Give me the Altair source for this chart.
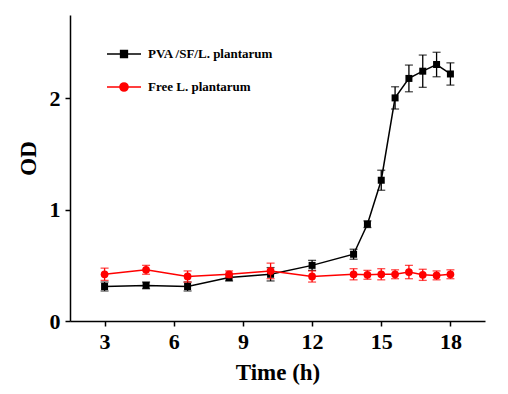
import altair as alt
import pandas as pd

time_h = [3, 4.8, 6.6, 8.4, 10.2, 12, 13.8, 14.4, 15, 15.6, 16.2, 16.8, 17.4, 18]
pva_od = [0.31, 0.32, 0.31, 0.39, 0.42, 0.50, 0.60, 0.87, 1.265, 2.005, 2.18, 2.245, 2.305, 2.22]
pva_err = [0.04, 0.03, 0.04, 0.03, 0.06, 0.045, 0.045, 0.03, 0.09, 0.10, 0.12, 0.145, 0.11, 0.10]
free_od = [0.42, 0.46, 0.40, 0.42, 0.45, 0.40, 0.42, 0.415, 0.42, 0.42, 0.44, 0.415, 0.41, 0.42]
free_err = [0.055, 0.04, 0.05, 0.03, 0.07, 0.05, 0.05, 0.04, 0.05, 0.04, 0.06, 0.05, 0.04, 0.04]

series_names = ["PVA /SF/L. plantarum", "Free L. plantarum"]
series_colors = ["#000000", "#ff0000"]
x_ticks = [3, 6, 9, 12, 15, 18]
y_ticks = [0, 1, 2]

rows = []
for t, v, e in zip(time_h, pva_od, pva_err):
    rows.append({"t": t, "od": v, "err": e, "series": series_names[0]})
for t, v, e in zip(time_h, free_od, free_err):
    rows.append({"t": t, "od": v, "err": e, "series": series_names[1]})
df = pd.DataFrame(rows)

FONT = "Liberation Serif"

xs = alt.Scale(domain=[1.5, 19.5], nice=False, zero=False)
ys = alt.Scale(domain=[0, 2.75], nice=False)

base = alt.Chart(df).transform_calculate(
    lo="datum.od - datum.err", hi="datum.od + datum.err"
)

X = alt.X("t:Q", scale=xs, axis=alt.Axis(values=x_ticks, title="Time (h)", format="d",
                                          titleY=51, titleBaseline="middle"))
Y = alt.Y("od:Q", scale=ys, axis=alt.Axis(values=y_ticks, title="OD", format="d",
                                           titleX=-42, titleY=143,
                                           titleBaseline="middle", titleAlign="center"))


def series_layers(name, color, shape, size):
    b = base.transform_filter(alt.datum.series == name)
    line = b.mark_line(color=color, strokeWidth=1.5).encode(x=X, y=Y)
    rule = b.mark_rule(color=color, strokeWidth=1.3).encode(
        x="t:Q", y="lo:Q", y2="hi:Q")
    cap_lo = b.mark_tick(color=color, orient="horizontal", size=8, thickness=1.3).encode(
        x="t:Q", y="lo:Q")
    cap_hi = b.mark_tick(color=color, orient="horizontal", size=8, thickness=1.3).encode(
        x="t:Q", y="hi:Q")
    pts = b.mark_point(filled=True, shape=shape, size=size, color=color, opacity=1).encode(
        x="t:Q", y="od:Q")
    return [rule, cap_lo, cap_hi, line, pts]


sq_path = "M-1,0H1M-0.2,-0.2H0.2V0.2H-0.2Z"
ci_path = "M-1,0H1M0.24,0A0.24,0.24,0,1,1,-0.24,0A0.24,0.24,0,1,1,0.24,0Z"

leg = alt.Legend(title=None, orient="none", legendX=36, legendY=21,
                 symbolSize=1156, symbolStrokeWidth=1.5, rowPadding=8,
                 labelFont=FONT, labelFontSize=13, labelFontWeight="bold",
                 labelOffset=6, labelColor="black")

legend_layer = base.transform_filter("datum.t < 0").mark_point(
    filled=True, opacity=1, strokeWidth=1.5).encode(
    x="t:Q", y="od:Q",
    fill=alt.Fill("series:N", scale=alt.Scale(domain=series_names, range=series_colors), legend=leg),
    stroke=alt.Stroke("series:N", scale=alt.Scale(domain=series_names, range=series_colors), legend=leg),
    shape=alt.Shape("series:N", scale=alt.Scale(domain=series_names, range=[sq_path, ci_path]), legend=leg),
)

layers = series_layers(series_names[0], series_colors[0], "square", 49) + \
    series_layers(series_names[1], series_colors[1], "circle", 60) + [legend_layer]

chart = alt.layer(*layers).properties(
    width=415, height=306,
    autosize=alt.AutoSizeParams(type="none"),
    padding={"left": 62, "top": 7, "right": 15, "bottom": 65},
).configure_view(stroke=None).configure_axis(
    grid=False, domainColor="black", domainWidth=1.5, tickColor="black",
    tickWidth=1.5, tickSize=5, labelFont=FONT, labelFontSize=22,
    labelFontWeight="bold", labelColor="black", titleFont=FONT,
    titleFontSize=23, titleFontWeight="bold", titleColor="black",
).configure_axisX(labelPadding=5).configure_axisY(labelPadding=5)

chart.save("out.html", embed_options={"renderer": "svg", "actions": False})
